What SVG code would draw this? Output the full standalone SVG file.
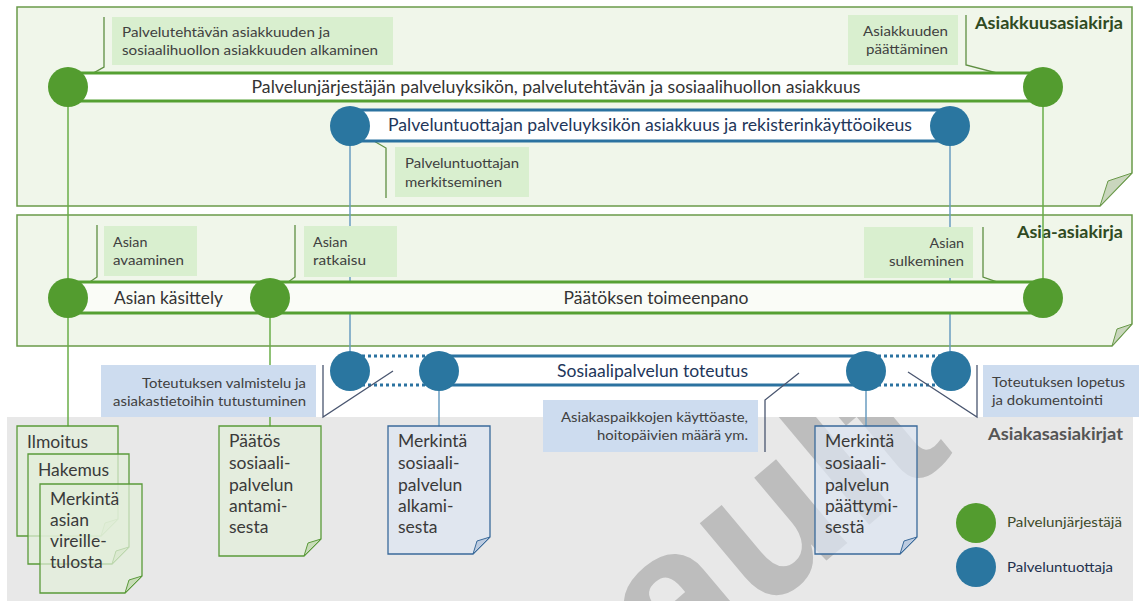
<svg xmlns="http://www.w3.org/2000/svg" width="1139" height="601" viewBox="0 0 1139 601">
  <style>
    text { font-family: Lato, "Liberation Sans", sans-serif; }
    .panel { fill: #f0f6ea; stroke: #6a9a4a; stroke-width: 1.5; }
    .flap { fill: #c9d6bd; stroke: #6a9a4a; stroke-width: 1; }
    .title { font-weight: bold; font-size: 17px; fill: #2f4a22; text-anchor: end; }
    .gcall { fill: #d9efcf; }
    .bcall { fill: #cddcef; }
    .ctext { font-size: 14.3px; fill: #404040; }
    .glead { fill: none; stroke: #5f8f42; stroke-width: 1.3; }
    .blead { fill: none; stroke: #4a5670; stroke-width: 1.3; }
    .gbar { fill: #ffffff; stroke: #55a032; stroke-width: 3; }
    .bbar { fill: #ffffff; stroke: #2b72a0; stroke-width: 3; }
    .btext { font-size: 17px; fill: #333333; text-anchor: middle; }
    .gdot { fill: #539c2f; }
    .bdot { fill: #2a76a0; }
    .gline { stroke: #6aae48; stroke-width: 1.5; }
    .bline { stroke: #6a9cc0; stroke-width: 1.5; }
    .dots { stroke: #2b72a0; stroke-width: 3; stroke-dasharray: 3 3; }
    .gdoc { fill: #e2efd9; fill-opacity: 0.72; stroke: #5a9a3a; stroke-width: 1.3; }
    .gflap { fill: #c8dcb8; stroke: #5a9a3a; stroke-width: 1; }
    .bdoc { fill: #dde5f1; fill-opacity: 0.72; stroke: #3a6a9a; stroke-width: 1.3; }
    .bflap { fill: #bccbe0; stroke: #3a6a9a; stroke-width: 1; }
    .dtext { font-size: 17.5px; fill: #3a3a3a; }
    .mark { font-family: "Liberation Sans", sans-serif; font-weight: bold; font-size: 208px; fill: #bdbdbd; }
  </style>
  <defs>
    <clipPath id="greyClip"><rect x="7" y="417" width="1126" height="184"/></clipPath>
  </defs>

  <!-- Panels -->
  <g id="panel-asiakkuus">
    <path class="panel" d="M17,7 H1132 V173 L1100,206 H17 Z"/>
    <path class="flap" d="M1100,206 L1108,181 L1132,173 Z"/>
    <text class="title" x="1123" y="29" textLength="148" lengthAdjust="spacingAndGlyphs">Asiakkuusasiakirja</text>
  </g>
  <g id="panel-asia">
    <path class="panel" d="M17,215 H1132 V324 L1112,346 H17 Z"/>
    <path class="flap" d="M1112,346 L1117,329 L1132,324 Z"/>
    <text class="title" x="1123" y="238" textLength="106" lengthAdjust="spacingAndGlyphs">Asia-asiakirja</text>
  </g>
  <g id="panel-asiakas">
    <rect x="7" y="417" width="1126" height="184" fill="#e8e8e8"/>
    <text class="title" x="1123" y="440" textLength="135" lengthAdjust="spacingAndGlyphs" style="fill:#555555">Asiakasasiakirjat</text>
    <!-- diagonal watermark, clipped to the grey band -->
    <g clip-path="url(#greyClip)">
      <text class="mark" x="0" y="0" transform="translate(672,690) rotate(-40)">ault</text>
    </g>
  </g>

  <!-- Connectors -->
  <g id="connectors">
    <line class="gline" x1="68" y1="87" x2="68" y2="427"/>
    <line class="gline" x1="1043" y1="87" x2="1043" y2="298"/>
    <line class="gline" x1="270" y1="298" x2="270" y2="427"/>
    <line class="bline" x1="350" y1="126" x2="350" y2="371"/>
    <line class="bline" x1="950" y1="126" x2="950" y2="371"/>
    <line class="bline" x1="439" y1="371" x2="439" y2="427"/>
    <line class="bline" x1="866" y1="371" x2="866" y2="427"/>
    <line class="dots" x1="350" y1="356" x2="439" y2="356"/>
    <line class="dots" x1="350" y1="385" x2="439" y2="385"/>
    <line class="dots" x1="866" y1="356" x2="950" y2="356"/>
    <line class="dots" x1="866" y1="385" x2="950" y2="385"/>
  </g>

  <!-- Green callouts -->
  <g id="call-alkaminen">
    <rect class="gcall" x="112" y="17" width="281" height="48"/>
    <text class="ctext" x="122" y="37" textLength="208" lengthAdjust="spacingAndGlyphs">Palvelutehtävän asiakkuuden ja</text>
    <text class="ctext" x="122" y="55" textLength="256" lengthAdjust="spacingAndGlyphs">sosiaalihuollon asiakkuuden alkaminen</text>
    <path class="glead" d="M104,17 V67 L70,86"/>
  </g>
  <g id="call-paattaminen">
    <rect class="gcall" x="848" y="15" width="110" height="50"/>
    <text class="ctext" x="948" y="36" text-anchor="end" textLength="85" lengthAdjust="spacingAndGlyphs">Asiakkuuden</text>
    <text class="ctext" x="948" y="54" text-anchor="end" textLength="82" lengthAdjust="spacingAndGlyphs">päättäminen</text>
    <path class="glead" d="M966,15 V65 L1043,85"/>
  </g>
  <g id="call-merkitseminen">
    <rect class="gcall" x="395" y="147" width="134" height="50"/>
    <text class="ctext" x="405" y="168" textLength="114" lengthAdjust="spacingAndGlyphs">Palveluntuottajan</text>
    <text class="ctext" x="405" y="187" textLength="97" lengthAdjust="spacingAndGlyphs">merkitseminen</text>
    <path class="glead" d="M348,126 L386,148 V198"/>
  </g>
  <g id="call-avaaminen">
    <rect class="gcall" x="104" y="226" width="93" height="50"/>
    <text class="ctext" x="113" y="247">Asian</text>
    <text class="ctext" x="113" y="265" textLength="71" lengthAdjust="spacingAndGlyphs">avaaminen</text>
    <path class="glead" d="M97,225 V277 L68,297"/>
  </g>
  <g id="call-ratkaisu">
    <rect class="gcall" x="304" y="226" width="93" height="51"/>
    <text class="ctext" x="313" y="247">Asian</text>
    <text class="ctext" x="313" y="265" textLength="53" lengthAdjust="spacingAndGlyphs">ratkaisu</text>
    <path class="glead" d="M295,225 V277 L268,297"/>
  </g>
  <g id="call-sulkeminen">
    <rect class="gcall" x="864" y="227" width="109" height="51"/>
    <text class="ctext" x="964" y="248" text-anchor="end">Asian</text>
    <text class="ctext" x="964" y="266" text-anchor="end" textLength="75" lengthAdjust="spacingAndGlyphs">sulkeminen</text>
    <path class="glead" d="M983,227 V277 L1043,298"/>
  </g>

  <!-- Bars -->
  <g id="bar-asiakkuus">
    <rect class="gbar" x="68" y="73" width="975" height="28"/>
    <text class="btext" x="556" y="93" textLength="609" lengthAdjust="spacingAndGlyphs">Palvelunjärjestäjän palveluyksikön, palvelutehtävän ja sosiaalihuollon asiakkuus</text>
    <circle class="gdot" cx="68" cy="87" r="20"/>
    <circle class="gdot" cx="1043" cy="87" r="20"/>
  </g>
  <g id="bar-rekisteri">
    <rect class="bbar" x="350" y="110" width="600" height="31"/>
    <text class="btext" x="650" y="131" textLength="524" lengthAdjust="spacingAndGlyphs" style="fill:#22365a">Palveluntuottajan palveluyksikön asiakkuus ja rekisterinkäyttöoikeus</text>
    <circle class="bdot" cx="350" cy="126" r="20"/>
    <circle class="bdot" cx="950" cy="126" r="20"/>
  </g>
  <g id="bar-asia">
    <rect class="gbar" x="68" y="282" width="975" height="31" style="fill:#fafcf7"/>
    <text class="btext" x="168.5" y="304" textLength="109" lengthAdjust="spacingAndGlyphs">Asian käsittely</text>
    <text class="btext" x="656" y="304" textLength="185" lengthAdjust="spacingAndGlyphs">Päätöksen toimeenpano</text>
    <circle class="gdot" cx="68" cy="298" r="20"/>
    <circle class="gdot" cx="270" cy="298" r="20"/>
    <circle class="gdot" cx="1043" cy="298" r="20"/>
  </g>
  <g id="bar-toteutus">
    <rect class="bbar" x="439" y="356" width="427" height="29"/>
    <text class="btext" x="652.5" y="377" textLength="191" lengthAdjust="spacingAndGlyphs" style="fill:#22365a">Sosiaalipalvelun toteutus</text>
    <circle class="bdot" cx="350" cy="371" r="20"/>
    <circle class="bdot" cx="439" cy="371" r="20"/>
    <circle class="bdot" cx="866" cy="371" r="20"/>
    <circle class="bdot" cx="951" cy="371" r="20"/>
  </g>

  <!-- Blue callouts -->
  <g id="call-valmistelu">
    <rect class="bcall" x="101" y="365" width="215" height="52"/>
    <text class="ctext" x="306" y="388" text-anchor="end" textLength="164" lengthAdjust="spacingAndGlyphs">Toteutuksen valmistelu ja</text>
    <text class="ctext" x="306" y="406" text-anchor="end" textLength="193" lengthAdjust="spacingAndGlyphs">asiakastietoihin tutustuminen</text>
    <path class="blead" d="M323,365 V417 L393,371"/>
  </g>
  <g id="call-kayttoaste">
    <rect class="bcall" x="543" y="400" width="215" height="52"/>
    <text class="ctext" x="748" y="422" text-anchor="end" textLength="187" lengthAdjust="spacingAndGlyphs">Asiakaspaikkojen käyttöaste,</text>
    <text class="ctext" x="748" y="440" text-anchor="end" textLength="151" lengthAdjust="spacingAndGlyphs">hoitopäivien määrä ym.</text>
    <path class="blead" d="M799,373 L765,400 V452"/>
  </g>
  <g id="call-lopetus">
    <rect class="bcall" x="983" y="365" width="156" height="52"/>
    <text class="ctext" x="992" y="387" textLength="133" lengthAdjust="spacingAndGlyphs">Toteutuksen lopetus</text>
    <text class="ctext" x="992" y="405" textLength="111" lengthAdjust="spacingAndGlyphs">ja dokumentointi</text>
    <path class="blead" d="M908,372 L977,417 V365"/>
  </g>

  <!-- Documents -->
  <g id="doc-ilmoitus">
    <path class="gdoc" d="M17,426 H118 V519 L101,536 H17 Z"/>
    <path class="gflap" d="M101,536 L105,523 L118,519 Z"/>
    <text class="dtext" x="27" y="448">Ilmoitus</text>
  </g>
  <g id="doc-hakemus">
    <path class="gdoc" d="M28,454 H129 V547 L112,564 H28 Z"/>
    <path class="gflap" d="M112,564 L116,551 L129,547 Z"/>
    <text class="dtext" x="38" y="476">Hakemus</text>
  </g>
  <g id="doc-vireilletulo">
    <path class="gdoc" d="M40,484 H142 V576 L125,593 H40 Z"/>
    <path class="gflap" d="M125,593 L129,580 L142,576 Z"/>
    <text class="dtext" x="50" y="505">Merkintä</text>
    <text class="dtext" x="50" y="526">asian</text>
    <text class="dtext" x="50" y="547">vireille-</text>
    <text class="dtext" x="50" y="568">tulosta</text>
  </g>
  <g id="doc-paatos">
    <path class="gdoc" d="M219,426 H321 V539 L304,556 H219 Z"/>
    <path class="gflap" d="M304,556 L308,543 L321,539 Z"/>
    <text class="dtext" x="229" y="447">Päätös</text>
    <text class="dtext" x="229" y="469">sosiaali-</text>
    <text class="dtext" x="229" y="491">palvelun</text>
    <text class="dtext" x="229" y="512">antami-</text>
    <text class="dtext" x="229" y="533">sesta</text>
  </g>
  <g id="doc-alkaminen">
    <path class="bdoc" d="M388,426 H490 V537 L473,554 H388 Z"/>
    <path class="bflap" d="M473,554 L477,541 L490,537 Z"/>
    <text class="dtext" x="398" y="447">Merkintä</text>
    <text class="dtext" x="398" y="469">sosiaali-</text>
    <text class="dtext" x="398" y="491">palvelun</text>
    <text class="dtext" x="398" y="512">alkami-</text>
    <text class="dtext" x="398" y="533">sesta</text>
  </g>
  <g id="doc-paattyminen">
    <path class="bdoc" d="M815,426 H917 V537 L900,554 H815 Z"/>
    <path class="bflap" d="M900,554 L904,541 L917,537 Z"/>
    <text class="dtext" x="825" y="447">Merkintä</text>
    <text class="dtext" x="825" y="469">sosiaali-</text>
    <text class="dtext" x="825" y="491">palvelun</text>
    <text class="dtext" x="825" y="512">päättymi-</text>
    <text class="dtext" x="825" y="533">sestä</text>
  </g>

  <!-- Legend -->
  <g id="legend">
    <circle class="gdot" cx="976" cy="523" r="20"/>
    <text x="1007" y="527" textLength="115" lengthAdjust="spacingAndGlyphs" style="font-size:14px;fill:#3d4a2a">Palvelunjärjestäjä</text>
    <circle class="bdot" cx="976" cy="567" r="20"/>
    <text x="1007" y="572" textLength="106" lengthAdjust="spacingAndGlyphs" style="font-size:14px;fill:#22304d">Palveluntuottaja</text>
  </g>
</svg>
